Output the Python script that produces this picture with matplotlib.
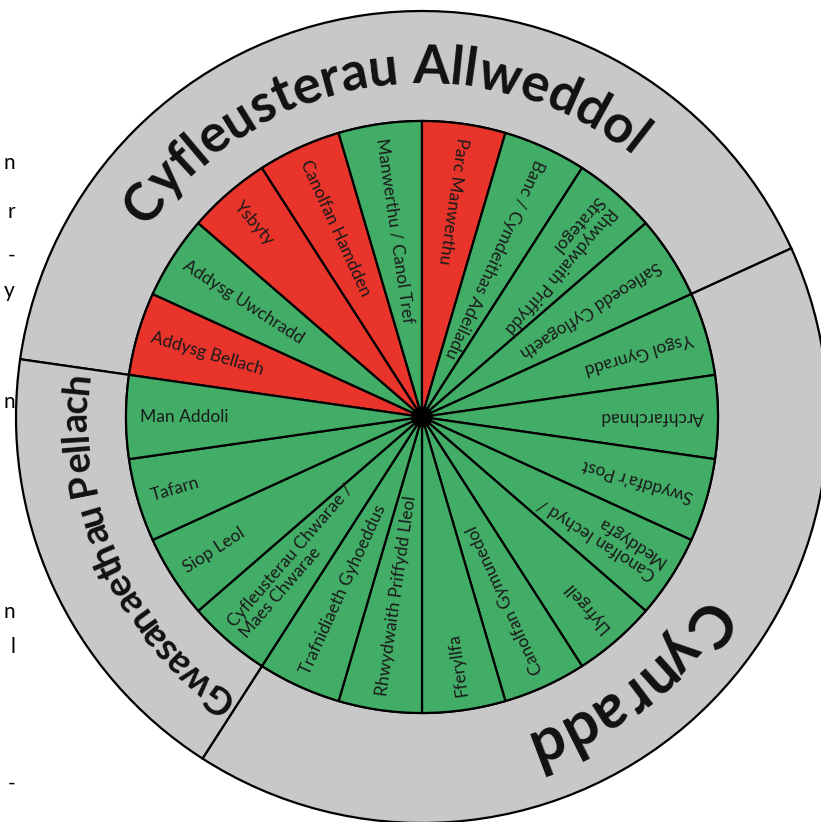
import matplotlib
matplotlib.use('Agg')
import matplotlib.pyplot as plt
from matplotlib.patches import Circle
from matplotlib.font_manager import FontProperties, findfont, get_font
from matplotlib import ft2font
import numpy as np

# ---------------- data ----------------
categories = ['Addysg Bellach', 'Addysg Uwchradd', 'Ysbyty', 'Canolfan Hamdden',
              'Manwerthu / Canol Tref', 'Parc Manwerthu', 'Banc / Cymdeithas Adeiladu',
              'Rhwydwaith Priffydd\nStrategol', 'Safleoedd Cyflogaeth', 'Ysgol Gynradd',
              'Archfarchnad', "Swyddfa'r Post", 'Canolfan Iechyd /\nMeddygfa', 'Llyfrgell',
              'Canolfan Gymunedol', 'Fferyllfa', 'Rhwydwaith Priffydd Lleol',
              'Trafnidiaeth Gyhoeddus', 'Cyfleusterau Chwarae /\nMaes Chwarae',
              'Siop Leol', 'Tafarn', 'Man Addoli']
# 1 = missing (red), 0 = present (green)
missing = [1, 0, 1, 1, 0, 1, 0, 0, 0, 0, 0, 0, 0, 0, 0, 0, 0, 0, 0, 0, 0, 0]
group_names = ['Cyfleusterau Allweddol', 'Cynradd', 'Gwasanaethau Pellach']
group_sizes = [9, 9, 4]
margin_fragments = ['n', 'r', '-', 'y', 'n', 'n', 'l', '-']
margin_fragment_y = [163, 212, 256, 291, 402, 612, 647, 784]

# ---------------- style ----------------
GREEN = '#42AD66'
RED = '#E8342B'
GREY = '#C8C8C8'
W, H = 821, 822
CX, CY = 422, H - 417
R_IN = 296
R_OUT = 406
FONT = ['Lato', 'Open Sans', 'DejaVu Sans']
GROUP_FONT_SIZES = [38, 44, 27.5]
GROUP_TRACKING = [1.0, 1.0, 0.97]
GROUP_ANGLE_SHIFT = [0, -3.4, 0]
GROUP_BASELINE_R = [334, 332, 335]

fig = plt.figure(figsize=(W / 100, H / 100), dpi=100)
ax = fig.add_axes([0, 0, 1, 1])

n = len(categories)
wedge = 360.0 / n
start = 180 - wedge / 2   # "Man Addoli" (last) centred at 180 deg

# outer grey ring (groups)
ax.pie(group_sizes, startangle=start, counterclock=False, radius=R_OUT,
       center=(CX, CY), colors=[GREY] * len(group_sizes),
       wedgeprops=dict(width=R_OUT - R_IN, edgecolor='black', linewidth=1.6))
# inner wedges
colors = [RED if m else GREEN for m in missing]
ax.pie([1] * n, startangle=start, counterclock=False, radius=R_IN,
       center=(CX, CY), colors=colors,
       wedgeprops=dict(edgecolor='black', linewidth=1.6))
ax.set_xlim(0, W)
ax.set_ylim(0, H)
ax.set_aspect('equal')
ax.axis('off')
ax.add_patch(Circle((CX, CY), 10, color='black', zorder=5))

# inner labels
r_lab = 282
for i, lab in enumerate(categories):
    th = start - (i + 0.5) * wedge
    t = np.radians(th)
    ax.text(CX + r_lab * np.cos(t), CY + r_lab * np.sin(t), lab,
            rotation=th + 180, rotation_mode='anchor', ha='left', va='center',
            fontsize=12.5, family=FONT, linespacing=1.0, zorder=6, color='#1a1a1a')

# curved group labels
try:
    KMODE = ft2font.Kerning.DEFAULT
except AttributeError:
    KMODE = ft2font.KERNING_DEFAULT


def advances(s, fp):
    font = get_font(findfont(fp))
    font.set_size(fp.get_size_in_points(), 100)
    out = []
    prev = None
    for ch in s:
        gi = font.get_char_index(ord(ch))
        g = font.load_char(ord(ch), flags=ft2font.LOAD_NO_HINTING)
        a = g.linearHoriAdvance / 65536.0
        k = 0.0
        if prev is not None:
            try:
                k = font.get_kerning(prev, gi, KMODE) / 64.0
            except Exception:
                k = 0.0
        out.append((a, k))
        prev = gi
    return out


def curved(s, theta_c, r_b, size, track):
    fp = FontProperties(family=FONT, weight='bold', size=size)
    adv = advances(s, fp)
    x = 0.0
    centres = []
    for a, k in adv:
        x += k * track
        centres.append(x + a * track / 2)
        x += a * track
    total = x
    for ch, c in zip(s, centres):
        if ch == ' ':
            continue
        off = c - total / 2
        th = theta_c - np.degrees(off / r_b)
        t = np.radians(th)
        ax.text(CX + r_b * np.cos(t), CY + r_b * np.sin(t), ch, fontproperties=fp,
                rotation=th - 90, rotation_mode='anchor', ha='center',
                va='baseline', zorder=7, color='#111111')


cum = np.cumsum([0] + group_sizes)
centres = [start - (cum[k] + cum[k + 1]) / 2 * wedge for k in range(len(group_sizes))]
for k, name in enumerate(group_names):
    curved(name, centres[k] + GROUP_ANGLE_SHIFT[k], GROUP_BASELINE_R[k],
           GROUP_FONT_SIZES[k], GROUP_TRACKING[k])

# cut-off text on the left margin (from neighbouring page)
for ch, y in zip(margin_fragments, margin_fragment_y):
    ax.text(15, H - y, ch, ha='right', va='center', fontsize=15, family=FONT)

fig.savefig('out.png', dpi=100)
